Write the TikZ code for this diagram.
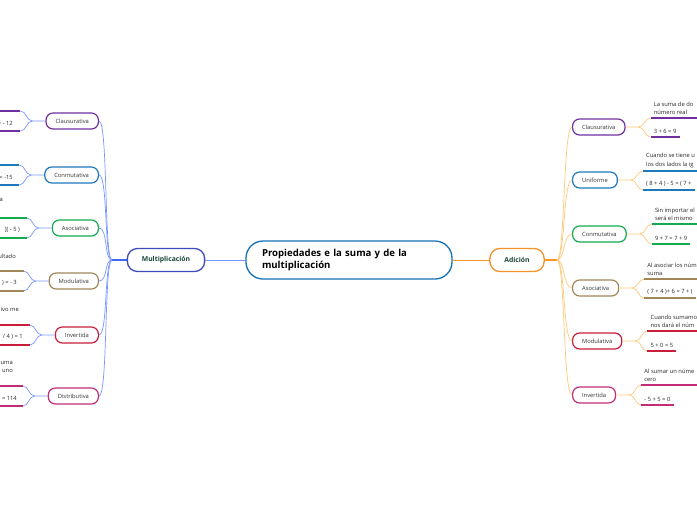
\documentclass[tikz,border=0pt]{standalone}
\usepackage{fontspec}
\setmainfont{Open Sans}
\usepackage{xcolor}
\definecolor{cpurple}{RGB}{112,48,160}
\definecolor{cblue}{RGB}{30,120,190}
\definecolor{cgreen}{RGB}{20,170,80}
\definecolor{cbrown}{RGB}{160,135,90}
\definecolor{ccrimson}{RGB}{200,30,60}
\definecolor{cmagenta}{RGB}{195,45,120}
\definecolor{croot}{RGB}{20,115,180}
\definecolor{cmult}{RGB}{60,75,190}
\definecolor{cadd}{RGB}{245,145,40}
\definecolor{lineL}{RGB}{120,150,255}
\definecolor{lineR}{RGB}{255,200,120}
\definecolor{hubLc}{RGB}{65,105,240}
\definecolor{hubRc}{RGB}{250,150,40}
\definecolor{txtgreen}{RGB}{25,70,55}
\usepackage{tikz}
\usetikzlibrary{positioning,calc}
\tikzset{
  root/.style ={rectangle,rounded corners=17pt,draw=croot,line width=1.3pt,fill=white,
                text width=174pt,align=left,inner xsep=16pt,minimum height=38pt,
                font=\fontsize{9.6}{12.5}\selectfont\bfseries},
  topic/.style={rectangle,rounded corners=10pt,draw=#1,line width=1.3pt,fill=white,
                minimum height=23pt,inner xsep=14.5pt,text=txtgreen,
                font=\fontsize{6.8}{8}\selectfont\bfseries},
  sub/.style  ={rectangle,rounded corners=7pt,draw=#1,line width=1.2pt,fill=white,
                minimum height=16pt,inner xsep=9.5pt,text=black!80,
                font=\fontsize{5.8}{7}\selectfont},
  leaf/.style ={inner xsep=3pt,inner ysep=3pt,align=left,text=black!85,
                font=\fontsize{5.8}{8.5}\selectfont},
  uline/.style={draw=#1,line width=1.4pt},
  twigL/.style={draw=lineL,line width=0.7pt},
  twigR/.style={draw=lineR,line width=0.7pt},
}
\begin{document}
\begin{tikzpicture}[x=1pt,y=-1pt]
  \useasboundingbox (0,0) rectangle (697,520);
  \clip (0,0) rectangle (697,520);
  % centre and the two main topics
  \node[root] (root) at (349,260) {Propiedades e la suma y de la\\multiplicación};
  \node[topic=cmult] (mult) at (166,260) {Multiplicación};
  \node[topic=cadd] (add) at (517,260) {Adición};
  \draw[draw=lineL,line width=1pt] (root) -- (mult);
  \draw[draw=hubRc,line width=1pt] (root) -- (add);
  \coordinate (hubL) at (112,260);
  \coordinate (hubR) at (557,260);
  \draw[draw=hubLc,line width=1.8pt] (mult.west) -- (hubL);
  \draw[draw=hubRc,line width=1.8pt] (add.east) -- (hubR);
  % Adicion
  \foreach \n/\y/\lbl/\col/\ua/\ub/\desc/\eq in {
    1/127/Clausurativa/cpurple/-9/10/{La suma de do\\número real}/{3 + 6 = 9},
    2/180/Uniforme/cblue/-9/10/{Cuando se tiene u\\los dos lados la ig}/{( 8 + 4 ) - 5 = ( 7 +},
    3/234/Conmutativa/cgreen/-10/10/{Sin importar el\\será el mismo}/{9 + 7 = 7 + 9},
    4/288/Asociativa/cbrown/-9/10/{Al asociar los núm\\suma}/{( 7 + 4 )+ 6 = 7 + (},
    5/341/Modulativa/ccrimson/-10/10/{Cuando sumamo\\nos dará el núm}/{5 + 0 = 5},
    6/395/Invertida/cmagenta/-10/10/{Al sumar un núme\\cero}/{- 5 + 5 = 0}}{
    \node[sub=\col,anchor=west] (r\n) at (572,\y) {\lbl};
    \draw[twigR] (hubR) .. controls +(8,0) and +(-9,0) .. (r\n.west);
    \coordinate (rj\n) at ($(r\n.east)+(13,0)$);
    \coordinate (ra\n) at ($(r\n.east)+(25,\ua)$);
    \coordinate (rb\n) at ($(r\n.east)+(25,\ub)$);
    \draw[twigR] (r\n.east) -- (rj\n) to[out=0,in=180] (ra\n);
    \draw[twigR] (rj\n) to[out=0,in=180] (rb\n);
    \node[leaf,anchor=south west] (rd\n) at (ra\n) {\desc};
    \node[leaf,anchor=south west] (re\n) at (rb\n) {\eq};
    \draw[uline=\col] (ra\n) -- ++(90,0);
    \draw[uline=\col] (rb\n) -- (re\n.south east);
  }
  % Multiplicacion
  \foreach \n/\y/\lbl/\col/\eq/\ex in {
    1/121/Clausurativa/cpurple/{= - 12}/16,
    2/175/Conmutativa/cblue/{= -15}/16,
    3/228/Asociativa/cgreen/{]( - 5 )}/23,
    4/281/Modulativa/cbrown/{) = - 3}/20,
    5/335/Invertida/ccrimson/{/ 4 ) = 1}/26,
    6/396/Distributiva/cmagenta/{= 114}/20}{
    \node[sub=\col,anchor=east] (l\n) at (99,\y) {\lbl};
    \draw[twigL] (hubL) .. controls +(-8,0) and +(9,0) .. (l\n.east);
    \coordinate (lj\n) at ($(l\n.west)+(-13,0)$);
    \coordinate (la\n) at ($(l\n.west)+(-25,-10)$);
    \coordinate (lb\n) at ($(l\n.west)+(-25,10)$);
    \draw[twigL] (l\n.west) -- (lj\n) to[out=180,in=0] (la\n);
    \draw[twigL] (lj\n) to[out=180,in=0] (lb\n);
    \draw[uline=\col] (la\n) -- ++(-60,0);
    \draw[uline=\col] (lb\n) -- ++(-60,0);
    \node[leaf,anchor=east] (le\n) at (\ex,\y+2) {\eq};
  }
  \node[leaf,anchor=east] (ld3) at (6,200) {a};
  \node[leaf,anchor=east] (ld4) at (19,256) {ultado};
  \node[leaf,anchor=east] (ld5) at (22,309) {ivo me};
  \node[leaf,anchor=east,align=right] (ld6) at (16,367) {suma\\uno};
\end{tikzpicture}
\end{document}
